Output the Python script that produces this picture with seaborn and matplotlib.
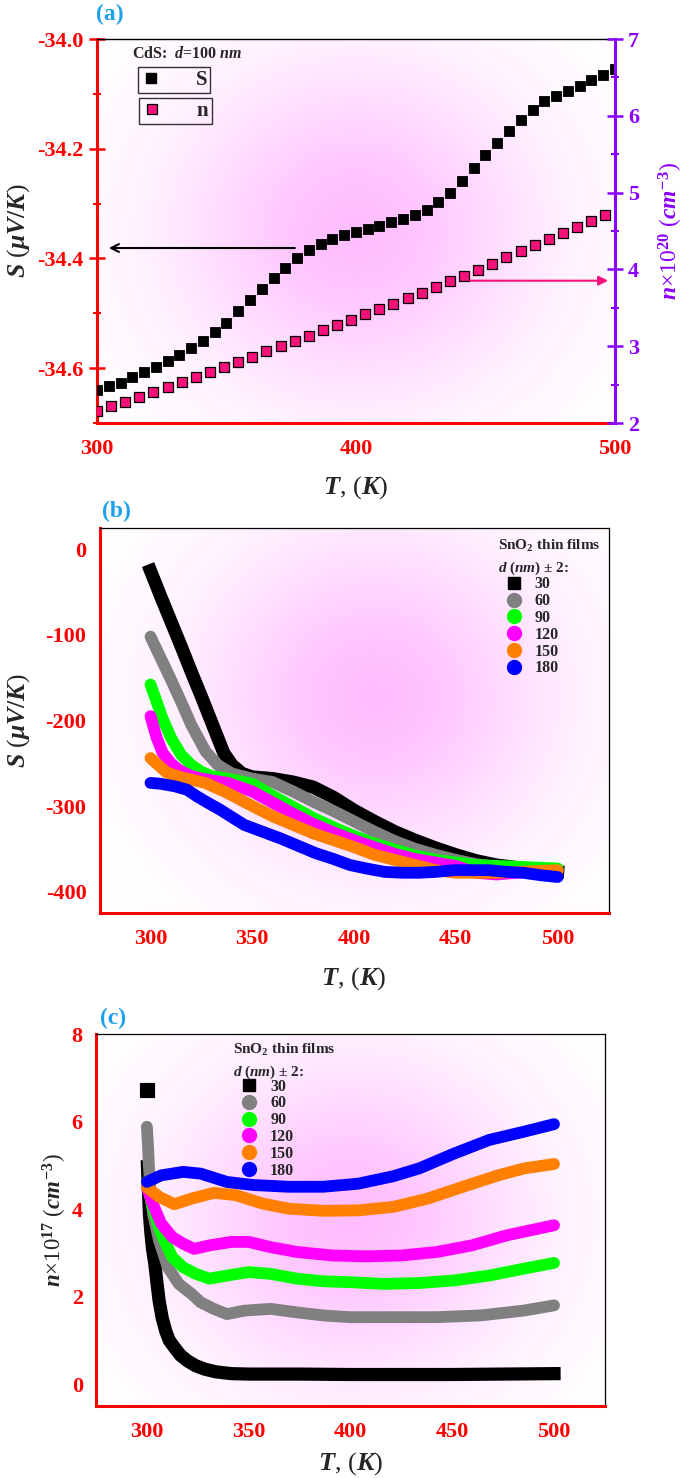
import numpy as np
import seaborn as sns
import matplotlib.pyplot as plt
from matplotlib.lines import Line2D
from matplotlib.ticker import MultipleLocator, FormatStrFormatter

sns.set_style("white")
plt.rcParams['font.family'] = ['Liberation Serif', 'DejaVu Serif']
plt.rcParams['font.weight'] = 'bold'
plt.rcParams['axes.unicode_minus'] = False
plt.rcParams['mathtext.fontset'] = 'custom'
plt.rcParams['mathtext.rm'] = 'Liberation Serif:bold'
plt.rcParams['mathtext.it'] = 'Liberation Serif:bold:italic'
plt.rcParams['mathtext.bf'] = 'Liberation Serif:bold'

RED = '#ff0000'
PURPLE = '#8a00ff'
PINK = '#f5127a'
BLUE_LBL = '#1ea0ee'

# ---------------- panel (a): CdS, d = 100 nm ----------------
T_S = [300.0, 304.5, 309.1, 313.6, 318.2, 322.7, 327.3, 331.8, 336.4, 340.9,
       345.5, 350.0, 354.5, 359.1, 363.6, 368.2, 372.7, 377.3, 381.8, 386.4,
       390.9, 395.5, 400.0, 404.5, 409.1, 413.6, 418.2, 422.7, 427.3, 431.8,
       436.4, 440.9, 445.5, 450.0, 454.5, 459.1, 463.6, 468.2, 472.7, 477.3,
       481.8, 486.4, 490.9, 495.5, 500.0]
S_cds = [-34.640, -34.633, -34.627, -34.617, -34.607, -34.598, -34.587, -34.576,
         -34.564, -34.550, -34.534, -34.517, -34.495, -34.475, -34.455, -34.435,
         -34.417, -34.400, -34.385, -34.374, -34.365, -34.358, -34.351, -34.346,
         -34.340, -34.334, -34.328, -34.321, -34.311, -34.297, -34.280, -34.258,
         -34.236, -34.212, -34.189, -34.167, -34.147, -34.129, -34.113, -34.103,
         -34.094, -34.085, -34.074, -34.065, -34.055]
T_n = [300.0, 305.5, 310.9, 316.4, 321.8, 327.3, 332.7, 338.2, 343.6, 349.1,
       354.5, 360.0, 365.4, 370.9, 376.3, 381.8, 387.2, 392.7, 398.1, 403.6,
       409.0, 414.5, 420.0, 425.4, 430.9, 436.3, 441.8, 447.2, 452.7, 458.1,
       463.6, 469.0, 474.5, 479.9, 485.4, 490.8, 496.3]
n_cds = [2.16, 2.217, 2.278, 2.343, 2.404, 2.469, 2.53, 2.595, 2.66, 2.725,
         2.794, 2.864, 2.933, 2.998, 3.068, 3.137, 3.207, 3.276, 3.345, 3.415,
         3.484, 3.554, 3.628, 3.697, 3.771, 3.845, 3.918, 3.997, 4.075, 4.157,
         4.235, 4.313, 4.391, 4.47, 4.548, 4.63, 4.708]

# ---------------- SnO2 films ----------------
thick = ['30', '60', '90', '120', '150', '180']
colors = ['#000000', '#808080', '#00ff00', '#ff00ff', '#ff8000', '#0000ff']

# panel (b): Seebeck coefficient
Tb_30 = [300, 305, 310, 315, 320, 325, 330, 336, 340, 345, 350, 360, 370, 380, 390,
         400, 410, 420, 430, 440, 450, 460, 470, 480, 490, 500]
Sb_30 = [-25, -55, -84, -113, -143, -172, -202, -238, -252, -262, -266, -268, -272,
         -278, -290, -305, -318, -330, -340, -349, -357, -364, -369, -372, -375, -377]
Tb_60 = [300, 305, 310, 315, 320, 327, 333, 340, 350, 360, 370, 380, 390, 400, 410,
         420, 430, 440, 450, 460, 470, 480, 490, 500]
Sb_60 = [-102, -127, -152, -178, -205, -236, -252, -262, -268, -272, -283, -295,
         -306, -318, -330, -341, -350, -357, -363, -368, -371, -373, -374, -375]
Tb_90 = [300, 303, 306, 310, 315, 320, 325, 330, 340, 350, 360, 370, 380, 390, 400,
         410, 420, 430, 440, 450, 460, 470, 480, 490, 500]
Sb_90 = [-158, -178, -198, -220, -240, -252, -260, -265, -269, -274, -288, -301,
         -314, -325, -335, -344, -351, -358, -363, -366, -369, -370, -371, -372, -373]
Tb_120 = [300, 303, 306, 310, 314, 320, 325, 338, 350, 360, 370, 380, 390, 400, 410,
          420, 430, 440, 450, 460, 470, 480, 490, 500]
Sb_120 = [-195, -220, -238, -250, -258, -265, -268, -273, -283, -296, -309, -321,
          -331, -340, -348, -356, -362, -366, -370, -378, -380, -378, -377, -376]
Tb_150 = [300, 308, 316, 327, 338, 350, 360, 370, 380, 390, 400, 410, 420, 430, 440,
          450, 460, 470, 480, 490, 500]
Sb_150 = [-244, -261, -267, -273, -285, -300, -312, -322, -332, -340, -348, -357,
          -363, -369, -375, -378, -378, -378, -377, -376, -375]
Tb_180 = [300, 305, 312, 318, 323, 328, 334, 340, 346, 355, 364, 372, 381, 390, 398,
          406, 415, 424, 432, 440, 449, 458, 466, 475, 483, 492, 500]
Sb_180 = [-273, -274, -277, -281, -289, -296, -304, -313, -322, -330, -338, -346,
          -355, -362, -369, -373, -377, -378, -378, -377, -375, -375, -375, -377,
          -378, -381, -383]

# panel (c): carrier concentration (x1e17 cm^-3)
Tc_30 = [300, 300.3, 300.8, 301.3, 302, 302.8, 303.9, 305, 306, 307.5, 309.2, 311,
         313.5, 316.5, 320, 324, 328.6, 334, 341.5, 350, 375, 400, 425, 450, 475, 500]
nc_30 = [6.72, 4.97, 4.4, 3.85, 3.45, 3.08, 2.75, 2.3, 1.91, 1.52, 1.22, 1.0, 0.84,
         0.66, 0.53, 0.42, 0.34, 0.28, 0.24, 0.23, 0.23, 0.22, 0.22, 0.22, 0.23, 0.24]
Tc_60 = [300, 300.6, 301, 301.7, 303, 306, 310.3, 315.7, 322, 326.4, 332.9, 339.3,
         348, 360.8, 373.7, 386.6, 399.5, 421, 442.4, 464, 485, 500]
nc_60 = [5.88, 5.42, 4.97, 4.5, 3.9, 3.28, 2.67, 2.29, 2.06, 1.87, 1.72, 1.6, 1.68,
         1.72, 1.64, 1.57, 1.53, 1.53, 1.53, 1.57, 1.68, 1.8]
Tc_90 = [300, 302.8, 307, 312.5, 317.8, 324, 330.7, 339.3, 350, 360.8, 373.7, 386.6,
         399.5, 416.6, 433.8, 451, 468, 485.4, 500]
nc_90 = [4.62, 4.05, 3.44, 2.9, 2.67, 2.52, 2.41, 2.48, 2.56, 2.52, 2.41, 2.35, 2.33,
         2.29, 2.31, 2.37, 2.48, 2.64, 2.77]
Tc_120 = [300, 302.8, 307, 312.5, 317.8, 323.2, 330.7, 341.5, 350, 360.8, 373.7,
          390.9, 408, 425.2, 442.4, 459.6, 476.8, 500]
nc_120 = [4.5, 4.13, 3.67, 3.36, 3.21, 3.09, 3.17, 3.25, 3.25, 3.13, 3.02, 2.94,
          2.92, 2.94, 3.02, 3.17, 3.4, 3.63]
Tc_150 = [300, 306, 313.5, 322, 332.9, 343.6, 356.5, 369.4, 386.6, 403.8, 421, 438,
          455.3, 472.5, 485.4, 500]
nc_150 = [4.5, 4.28, 4.11, 4.24, 4.37, 4.32, 4.13, 4.01, 3.96, 3.97, 4.05, 4.24,
          4.51, 4.77, 4.93, 5.03]
Tc_180 = [300, 307, 317.8, 326.4, 339.3, 352.2, 369.4, 386.6, 403.8, 421, 433.8,
          451, 468.2, 485.4, 500]
nc_180 = [4.62, 4.77, 4.85, 4.81, 4.62, 4.55, 4.51, 4.51, 4.58, 4.75, 4.93, 5.27,
          5.58, 5.77, 5.94]


def pink_glow(ax, cx, cy, sx, sy, amax=0.25):
    # soft magenta glow behind the data
    yy, xx = np.mgrid[0:1:200j, 0:1:200j]
    a = amax * np.exp(-(((xx - cx) / sx) ** 2 + ((yy - cy) / sy) ** 2) / 2)
    img = np.zeros((200, 200, 4))
    img[..., 0] = 1
    img[..., 2] = 1
    img[..., 3] = a
    ax.imshow(img, extent=[0, 1, 0, 1], transform=ax.transAxes, origin='lower',
              aspect='auto', zorder=0, interpolation='bilinear')


def style_ticks(ax, axis, color, size=16):
    ax.tick_params(axis=axis, which='major', direction='inout', length=11, width=1.8,
                   color=color, labelcolor=color, labelsize=size, pad=4)
    ax.tick_params(axis=axis, which='minor', direction='inout', length=6, width=1.5,
                   color=color)


fig = plt.figure(figsize=(6.85, 14.78), dpi=100)

# ================= (a) =================
ax = fig.add_axes([0.1416, 0.7138, 0.756, 0.2598])
pink_glow(ax, 0.5, 0.5, 0.24, 0.3, 0.26)
sns.scatterplot(x=T_S, y=S_cds, marker='s', s=55, color='black', edgecolor='black',
                linewidth=0.6, ax=ax, zorder=3)
ax.set_xlim(300, 500)
ax.set_ylim(-34.7, -34.0)
ax.xaxis.set_major_locator(MultipleLocator(100))
ax.xaxis.set_minor_locator(MultipleLocator(50))
ax.yaxis.set_major_locator(MultipleLocator(0.2))
ax.yaxis.set_minor_locator(MultipleLocator(0.1))
ax.yaxis.set_major_formatter(FormatStrFormatter('%.1f'))
style_ticks(ax, 'x', RED)
style_ticks(ax, 'y', RED)
ax.tick_params(axis='x', pad=6)
for side in ['left', 'bottom']:
    ax.spines[side].set_color(RED)
    ax.spines[side].set_linewidth(2.2)
ax.spines['top'].set_color('black')
ax.spines['top'].set_linewidth(1.0)
ax.spines['right'].set_visible(False)
ax.set_xlabel(r'$\mathit{T}$, ($\mathit{K}$)', fontsize=19, labelpad=11)
ax.set_ylabel(r'$\mathit{S}$ ($\mathit{\mu V/K}$)', fontsize=18.5, labelpad=4)

ax2 = ax.twinx()
sns.scatterplot(x=T_n, y=n_cds, marker='s', s=55, color=PINK, edgecolor='black',
                linewidth=0.9, ax=ax2, zorder=3)
ax2.set_ylim(2, 7)
ax2.yaxis.set_major_locator(MultipleLocator(1))
ax2.yaxis.set_minor_locator(MultipleLocator(0.5))
style_ticks(ax2, 'y', PURPLE)
for side in ['left', 'top', 'bottom']:
    ax2.spines[side].set_visible(False)
ax2.spines['right'].set_color(PURPLE)
ax2.spines['right'].set_linewidth(2.2)
ax2.set_ylabel(r'$\mathit{n}$×10$^{20}$ ($\mathit{cm}^{-3}$)', fontsize=17,
               color=PURPLE, labelpad=13)

ax.annotate('', xy=(303.5, -34.381), xytext=(377.5, -34.381),
            arrowprops=dict(arrowstyle='->', color='black', lw=1.5,
                            mutation_scale=14), zorder=4)
ax2.annotate('', xy=(498.5, 3.853), xytext=(443, 3.853),
             arrowprops=dict(arrowstyle='-|>', color=PINK, lw=1.5,
                             mutation_scale=14), zorder=4)

ax.text(0.068, 0.962, r'CdS:  $\mathit{d}$=100 $\mathit{nm}$', transform=ax.transAxes,
        fontsize=11.5, va='center', ha='left')
h_S = Line2D([], [], ls='none', marker='s', ms=7, color='black', mec='black')
h_n = Line2D([], [], ls='none', marker='s', ms=7, mfc=PINK, mec='black', mew=0.9)
leg_kw = dict(loc='upper left', fontsize=15, frameon=True, fancybox=False,
              edgecolor='black', handletextpad=1.7, handlelength=0.9,
              borderpad=0.15, borderaxespad=0)
leg1 = ax.legend([h_S], ['S'], bbox_to_anchor=(0.08, 0.927), **leg_kw)
leg1.get_frame().set_linewidth(1.0)
leg1.get_frame().set_facecolor('none')
ax.add_artist(leg1)
leg2 = ax.legend([h_n], ['n'], bbox_to_anchor=(0.082, 0.846), **leg_kw)
leg2.get_frame().set_linewidth(1.0)
leg2.get_frame().set_facecolor('none')
fig.text(110 / 685, 1 - 14 / 1478, '(a)', color=BLUE_LBL, fontsize=17,
         ha='center', va='center')


# ================= (b) & (c) =================
def sno2_panel(rect, series, ylim, ymaj, ymin, ylabel, ylsize, ylpad, xlpad, glow,
               leg_xy, txt_xy, label_txt, label_xy, lone_first=False):
    ax = fig.add_axes(rect)
    pink_glow(ax, *glow)
    for (T, v), c in zip(series, colors):
        black = c == '#000000'
        cap = 'projecting' if black else 'round'
        lw = 9.5 if black else 8.5
        if black and lone_first:
            # first reading sits apart from the rest of the curve
            sns.scatterplot(x=T[:1], y=v[:1], marker='s', s=110, color=c,
                            edgecolor=c, ax=ax, zorder=3)
            T, v = T[1:], v[1:]
        sns.lineplot(x=T, y=v, color=c, lw=lw, solid_capstyle=cap,
                     solid_joinstyle='round', ax=ax, zorder=3, sort=False,
                     estimator=None)
    ax.set_xlim(275, 525)
    ax.set_ylim(*ylim)
    ax.xaxis.set_major_locator(MultipleLocator(50))
    ax.xaxis.set_minor_locator(MultipleLocator(25))
    ax.yaxis.set_major_locator(MultipleLocator(ymaj))
    ax.yaxis.set_minor_locator(MultipleLocator(ymin))
    style_ticks(ax, 'x', RED)
    style_ticks(ax, 'y', RED)
    ax.tick_params(axis='x', pad=6)
    for side in ['left', 'bottom']:
        ax.spines[side].set_color(RED)
        ax.spines[side].set_linewidth(2.2)
    for side in ['top', 'right']:
        ax.spines[side].set_color('black')
        ax.spines[side].set_linewidth(0.9)
    ax.set_xlabel(r'$\mathit{T}$, ($\mathit{K}$)', fontsize=19, labelpad=xlpad)
    ax.set_ylabel(ylabel, fontsize=ylsize, labelpad=ylpad)

    ax.text(txt_xy[0], txt_xy[1], r'SnO$_2$ thin films', transform=ax.transAxes,
            fontsize=11, va='center', ha='left')
    ax.text(txt_xy[0], txt_xy[1] - 0.057 * 385 / (rect[3] * 1478),
            r'$\mathit{d}$ ($\mathit{nm}$) ± 2:', transform=ax.transAxes,
            fontsize=11, va='center', ha='left')
    handles = [Line2D([], [], ls='none', marker='s' if i == 0 else 'o',
                      ms=9 if i == 0 else 10, color=c)
               for i, c in enumerate(colors)]
    ax.legend(handles, thick, loc='upper left', bbox_to_anchor=leg_xy,
              fontsize=11.5, frameon=False, handlelength=1.0, handletextpad=0.8,
              labelspacing=0.05, borderpad=0, borderaxespad=0)
    fig.text(label_xy[0], label_xy[1], label_txt, color=BLUE_LBL, fontsize=17,
             ha='center', va='center')
    return ax


sno2_panel([0.1454, 0.3823, 0.743, 0.2605],
           [(Tb_30, Sb_30), (Tb_60, Sb_60), (Tb_90, Sb_90), (Tb_120, Sb_120),
            (Tb_150, Sb_150), (Tb_180, Sb_180)],
           (-425, 25), 100, 50, r'$\mathit{S}$ ($\mathit{\mu V/K}$)', 18.5, 10, 12,
           (0.54, 0.56, 0.24, 0.3, 0.26), (0.798, 0.874), (0.782, 0.953),
           '(b)', (116 / 685, 1 - 511 / 1478))

sno2_panel([0.1401, 0.0487, 0.743, 0.2517],
           [(Tc_30, nc_30), (Tc_60, nc_60), (Tc_90, nc_90), (Tc_120, nc_120),
            (Tc_150, nc_150), (Tc_180, nc_180)],
           (-0.5, 8), 2, 1, r'$\mathit{n}$×10$^{17}$ ($\mathit{cm}^{-3}$)', 16.5, 2, 6,
           (0.5, 0.5, 0.24, 0.3, 0.26), (0.2857, 0.88), (0.27, 0.957),
           '(c)', (113 / 685, 1 - 1018 / 1478), lone_first=True)

fig.savefig('out.png', dpi=100)
